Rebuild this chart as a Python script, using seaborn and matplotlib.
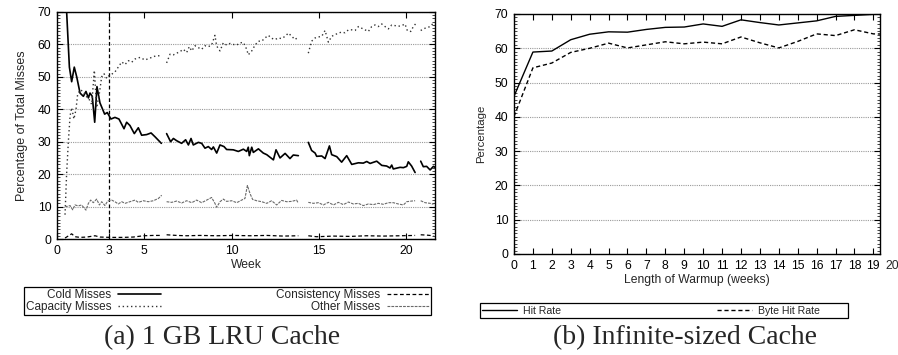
import numpy as np
import pandas as pd
import matplotlib
matplotlib.use("Agg")
import matplotlib.pyplot as plt
import seaborn as sns
from matplotlib.ticker import MultipleLocator
from matplotlib.transforms import blended_transform_factory
from matplotlib.patches import Rectangle

sns.set_style("ticks")
plt.rcParams['font.family'] = ['Liberation Sans', 'DejaVu Sans']

NA = np.nan

# ---------------- (a) 1 GB LRU Cache ----------------
cold_weeks = [0.46, 0.71, 0.84, 0.99, 1.13, 1.32, 1.51, 1.66, 1.80, 1.89, 2.02, 2.16, 2.29, 2.46, 2.73, 2.88,
              3.09, 3.32, 3.55, 3.84, 3.99, 4.18, 4.43, 4.66, 4.85, 5.14, 5.39, 5.62, 5.98, 6.10,
              6.28, 6.51, 6.67, 6.86, 7.14, 7.37, 7.53, 7.68, 7.81, 8.10, 8.29, 8.48, 8.67, 8.86, 8.96,
              9.15, 9.34, 9.57, 9.72, 10.10, 10.39, 10.68, 10.87, 10.96, 11.02, 11.16, 11.25, 11.54,
              11.82, 12.02, 12.40, 12.55, 12.78, 13.07, 13.35, 13.54, 13.83, 14.10,
              14.40, 14.59, 14.79, 14.88, 15.17, 15.36, 15.61, 15.74, 16.03, 16.31, 16.60, 16.89,
              17.27, 17.55, 17.75, 17.94, 18.32, 18.61, 18.89, 19.08, 19.18, 19.27, 19.66, 19.85,
              20.04, 20.13, 20.32, 20.52, 20.70,
              20.84, 20.99, 21.18, 21.38, 21.57, 21.70]
cold_vals = [80, 53, 48.5, 53, 50, 45, 44, 45.5, 43.5, 45, 44, 36, 47, 42, 38.5, 39,
             37, 37.5, 37, 34, 36, 35, 32.5, 34.3, 32, 32.2, 32.7, 31.5, 29.5, NA,
             32.5, 30, 31, 30.3, 29.5, 30.6, 29, 31, 29, 29.8, 29.5, 28, 28.5, 27.6, 28.4,
             26.5, 29, 28.5, 27.6, 27.5, 27, 27.7, 27, 28.3, 25.7, 28.3, 26.7, 27.8,
             26.5, 26, 24.4, 27.5, 25, 26.4, 24.8, 25.9, 25.7, NA,
             29.8, 27.3, 26.5, 25.5, 25.6, 24.8, 28.7, 26, 25.4, 23.7, 25.7, 23,
             23.5, 23.4, 23.9, 23.3, 24, 22.7, 22.5, 21.9, 22.8, 21.6, 22.1, 22,
             22.4, 23.8, 22.5, 20.5, NA,
             24, 22.3, 22.4, 21.3, 22.4, 22.0]

capacity_weeks = [0.46, 0.55, 0.65, 0.75, 0.84, 0.97, 1.09, 1.18, 1.32, 1.51, 1.66, 1.80, 1.99, 2.14, 2.27,
                  2.43, 2.56, 2.69, 2.85, 3.00, 3.13, 3.32, 3.51, 3.71, 3.90, 4.09, 4.28, 4.47, 4.76,
                  5.04, 5.33, 5.67, 5.90, 6.10,
                  6.28, 6.48, 6.67, 6.86, 7.05, 7.24, 7.43, 7.58, 7.72, 7.91, 8.10, 8.29, 8.48, 8.67,
                  8.86, 9.05, 9.15, 9.34, 9.53, 9.72, 9.91, 10.10, 10.30, 10.49, 10.68, 10.87, 10.96,
                  11.16, 11.35, 11.54, 11.73, 11.92, 12.11, 12.30, 12.49, 12.68, 12.87, 13.07, 13.26,
                  13.45, 13.64, 13.83, 14.10,
                  14.40, 14.59, 14.79, 14.98, 15.17, 15.36, 15.55, 15.74, 15.93, 16.12, 16.31, 16.50,
                  16.70, 16.89, 17.08, 17.27, 17.46, 17.65, 17.84, 18.03, 18.22, 18.41, 18.61, 18.80,
                  18.99, 19.18, 19.37, 19.56, 19.75, 19.94, 20.08, 20.27, 20.42, 20.57, 20.70,
                  20.84, 21.09, 21.38, 21.57]
capacity_vals = [7.5, 20, 30, 38, 40.5, 37, 40, 44.5, 46, 45.5, 44, 43.5, 41.5, 52, 40.5,
                 45, 50, 51, 49.5, 50.5, 50.8, 51.5, 53, 54.6, 53.8, 55, 54.5, 55.5, 56,
                 55.2, 55.8, 56.5, 56.5, NA,
                 54.3, 57, 56.8, 57.3, 57.8, 58.5, 57.5, 59.3, 58, 59.6, 59, 58.5, 59.6, 59.3,
                 59.8, 62.8, 59.5, 58, 60.5, 59.8, 60.3, 60, 59.8, 60.5, 60.6, 58.5, 56.8,
                 58, 59.8, 61, 61, 62, 62.8, 61.9, 61.5, 62, 61.8, 62.5, 63.5,
                 62.5, 61.5, 62.3, NA,
                 57.3, 61, 62, 62.3, 62.5, 64.3, 60.7, 62.5, 63, 63.5, 63.8, 63.6,
                 64.5, 64.5, 64.3, 65.5, 65, 64.5, 64, 65.5, 66, 65.5, 66.3, 65.5,
                 64.8, 66, 65.8, 65.6, 65.8, 66.3, 64.2, 64, 65.5, 66.5, NA,
                 64.3, 65, 65.5, 66.6]

consistency_weeks = [0.46, 0.84, 1.03, 1.32, 1.70, 2.18, 2.46, 3.04, 3.80, 4.37, 4.95, 5.52, 5.90, 6.10,
                     6.28, 6.86, 7.43, 8.19, 9.15, 10.10, 11.06, 12.02, 12.97, 13.83, 14.10,
                     14.40, 14.88, 15.84, 16.79, 17.75, 18.70, 19.66, 20.52, 20.70,
                     20.84, 21.18, 21.57]
consistency_vals = [0.3, 1.6, 0.7, 0.5, 0.6, 1.0, 0.6, 0.5, 0.5, 0.6, 1.0, 1.1, 1.1, NA,
                    1.3, 1.1, 1.0, 1.1, 1.0, 1.1, 1.0, 1.1, 0.9, 1.0, NA,
                    1.0, 0.7, 0.9, 0.8, 1.0, 0.9, 1.0, 1.1, NA,
                    1.3, 1.2, 1.0]

other_weeks = [0.46, 0.55, 0.75, 0.90, 1.03, 1.22, 1.41, 1.66, 1.80, 1.93, 2.08, 2.27, 2.43, 2.56, 2.75,
               2.90, 3.13, 3.32, 3.51, 3.71, 3.90, 4.18, 4.47, 4.66, 4.95, 5.23, 5.52, 5.81, 6.00, 6.10,
               6.28, 6.57, 6.86, 7.14, 7.43, 7.72, 8.00, 8.29, 8.58, 8.86, 9.05, 9.15, 9.34, 9.53,
               9.72, 10.01, 10.30, 10.58, 10.77, 10.91, 11.06, 11.21, 11.44, 11.73, 12.02, 12.30,
               12.59, 12.87, 13.16, 13.45, 13.73, 13.83, 14.10,
               14.40, 14.69, 14.98, 15.26, 15.55, 15.84, 16.12, 16.41, 16.70, 16.98, 17.27, 17.55,
               17.84, 18.13, 18.41, 18.70, 18.99, 19.27, 19.56, 19.85, 20.04, 20.32, 20.52, 20.70,
               20.84, 21.09, 21.38, 21.57]
other_vals = [10.2, 10, 10.3, 9, 10.5, 10.2, 10.5, 8.9, 11, 12, 11.2, 12.3, 10.5, 11.5, 10.3,
              11.7, 12, 11.5, 10.8, 11.5, 11, 11.5, 12, 11.3, 11.8, 11.5, 11.8, 12.5, 13.5, NA,
              11.5, 11.3, 11.7, 11.1, 11.8, 11.2, 12, 11.2, 12, 12.8, 11, 9.8, 11.5, 12.3,
              11.6, 11.8, 11.2, 12, 12.5, 16.5, 14, 12.2, 11.8, 11.5, 11, 11.8,
              10.5, 11.9, 11.5, 11.6, 12, 11, NA,
              11.3, 11, 11.2, 10.5, 11.3, 10.5, 11.3, 10.6, 11.4, 10.8, 11, 10.3,
              10.8, 10.6, 11, 10.7, 11.2, 11.2, 10.8, 10.5, 11.5, 11.7, 11.8, NA,
              11.8, 11.2, 11, 10.7]

miss_names = ['Cold Misses', 'Capacity Misses', 'Consistency Misses', 'Other Misses']
week_ticks = [0, 3, 5, 10, 15, 20]

# ---------------- (b) Infinite-sized Cache ----------------
warmup_weeks = list(range(0, 21))
hit_rate = [46.0, 58.9, 59.2, 62.5, 64.1, 64.8, 64.7, 65.5, 66.1, 66.2, 67.1, 66.4, 68.3, 67.5, 66.8,
            67.4, 68.0, 69.3, 69.6, 69.9, 70.0]
byte_hit_rate = [40.1, 54.3, 55.7, 58.8, 60.0, 61.5, 60.1, 61.0, 61.9, 61.3, 61.8, 61.3, 63.3, 61.6,
                 60.1, 62.0, 64.2, 63.7, 65.4, 64.2, 64.1]
rate_names = ['Hit Rate', 'Byte Hit Rate']


def long_frame(series):
    frames = []
    for name, (wk, val) in series.items():
        d = pd.DataFrame({'week': wk, 'pct': val})
        d['unit'] = name + '_' + d['pct'].isna().cumsum().astype(str)
        d = d.dropna()
        d['series'] = name
        frames.append(d)
    return pd.concat(frames, ignore_index=True)


df_a = long_frame({
    'Cold Misses': (cold_weeks, cold_vals),
    'Capacity Misses': (capacity_weeks, capacity_vals),
    'Consistency Misses': (consistency_weeks, consistency_vals),
    'Other Misses': (other_weeks, other_vals),
})
df_b = pd.DataFrame({
    'week': warmup_weeks * 2,
    'pct': hit_rate + byte_hit_rate,
    'series': ['Hit Rate'] * len(hit_rate) + ['Byte Hit Rate'] * len(byte_hit_rate),
})

W, H = 898, 355
fig = plt.figure(figsize=(W / 100, H / 100), dpi=100)
ax1 = fig.add_axes([57 / W, 1 - 239 / H, 378 / W, 227 / H])
ax2 = fig.add_axes([514 / W, 1 - 254 / H, 366 / W, 240 / H])

grid_kw = dict(color='#9a9a9a', linestyle=(0, (1, 1)), linewidth=0.8)
TICK_FS = 8.7
LAB_FS = 8.7

# ----- left panel -----
pal_a = {'Cold Misses': 'black', 'Capacity Misses': '#333333',
         'Consistency Misses': 'black', 'Other Misses': '#6a6a6a'}
dash_a = {'Cold Misses': '', 'Capacity Misses': (1, 2),
          'Consistency Misses': (3, 2), 'Other Misses': (2.5, 1)}
size_a = {'Cold Misses': 1.2, 'Capacity Misses': 1.0,
          'Consistency Misses': 0.9, 'Other Misses': 0.8}
sns.lineplot(data=df_a, x='week', y='pct', hue='series', style='series', size='series',
             units='unit', estimator=None, sort=False, hue_order=miss_names,
             style_order=miss_names, size_order=miss_names,
             palette=pal_a, dashes=dash_a, sizes=size_a, ax=ax1)
h_a, l_a = ax1.get_legend_handles_labels()
ax1.get_legend().remove()
ax1.set_xlim(0, 21.66)
ax1.set_ylim(0, 70)
ax1.set_xticks(week_ticks)
ax1.set_yticks(range(0, 71, 10))
ax1.yaxis.set_minor_locator(MultipleLocator(1))
ax1.set_axisbelow(True)
ax1.yaxis.grid(True, **grid_kw)
ax1.axvline(3, color='black', linestyle=(0, (3, 2)), linewidth=0.9, zorder=1)
ax1.set_xlabel('Week', fontsize=LAB_FS, labelpad=1.5)
ax1.set_ylabel('Percentage of Total Misses', fontsize=LAB_FS + 0.3, labelpad=7)

# ----- right panel -----
pal_b = {'Hit Rate': 'black', 'Byte Hit Rate': 'black'}
dash_b = {'Hit Rate': '', 'Byte Hit Rate': (3, 2)}
sns.lineplot(data=df_b, x='week', y='pct', hue='series', style='series',
             hue_order=rate_names, style_order=rate_names,
             palette=pal_b, dashes=dash_b, linewidth=1.0, ax=ax2)
h_b, l_b = ax2.get_legend_handles_labels()
ax2.get_legend().remove()
ax2.set_xlim(0, 19.35)
ax2.set_ylim(0, 70)
ax2.set_xticks(warmup_weeks[:-1])
ax2.set_yticks(range(0, 71, 10))
ax2.yaxis.set_minor_locator(MultipleLocator(1))
ax2.set_axisbelow(True)
ax2.yaxis.grid(True, **grid_kw)
ax2.set_xlabel('Length of Warmup (weeks)', fontsize=LAB_FS, labelpad=2)
ax2.set_ylabel('Percentage', fontsize=LAB_FS - 0.5, labelpad=6)
tr = blended_transform_factory(ax2.transData, ax2.transAxes)
ax2.annotate(str(warmup_weeks[-1]), xy=(warmup_weeks[-1], 0), xycoords=tr,
             xytext=(0, -4), textcoords='offset points', ha='center', va='top',
             fontsize=TICK_FS, annotation_clip=False)

for ax in (ax1, ax2):
    ax.tick_params(which='major', direction='in', top=True, right=True, length=4, width=0.8,
                   labelsize=TICK_FS, pad=4, colors='black')
    ax.tick_params(which='minor', direction='in', left=True, right=True, length=2, width=0.6)
    for s in ax.spines.values():
        s.set_linewidth(1.0)
        s.set_color('black')
        s.set_zorder(5)

# legends
keep_a = [(h, l) for h, l in zip(h_a, l_a) if l in miss_names]
leg_a = fig.legend([h for h, _ in keep_a], [l for _, l in keep_a], ncol=2, loc='lower left',
                   bbox_to_anchor=(24 / W, 1 - 315 / H, 407 / W, 26 / H), mode='expand',
                   markerfirst=False, fontsize=8.5, handlelength=3.6, labelspacing=0.05,
                   borderpad=0.15, handletextpad=0.6, columnspacing=1.0, frameon=True,
                   fancybox=False, edgecolor='black', framealpha=1, borderaxespad=0)
leg_a.get_frame().set_linewidth(0.9)

keep_b = [(h, l) for h, l in zip(h_b, l_b) if l in rate_names]
leg_b = fig.legend([h for h, _ in keep_b], [l for _, l in keep_b], ncol=2, loc='center left',
                   bbox_to_anchor=(482 / W, 1 - 317 / H, 338 / W, 13 / H), mode='expand',
                   markerfirst=True, fontsize=7.6, handlelength=3.3, borderpad=0.0,
                   handletextpad=0.6, columnspacing=1.0, frameon=False, borderaxespad=0)
fig.patches.append(Rectangle((480 / W, 1 - 318 / H), 368 / W, 15 / H, transform=fig.transFigure,
                             fill=False, edgecolor='black', linewidth=0.9))

cap_kw = dict(fontsize=20, family=['Liberation Serif', 'DejaVu Serif'], ha='center', va='center')
fig.text(222 / W, 1 - 338 / H, '(a) 1 GB LRU Cache', **cap_kw)
fig.text(685 / W, 1 - 338 / H, '(b) Infinite-sized Cache', **cap_kw)

fig.savefig('out.png', dpi=100)
